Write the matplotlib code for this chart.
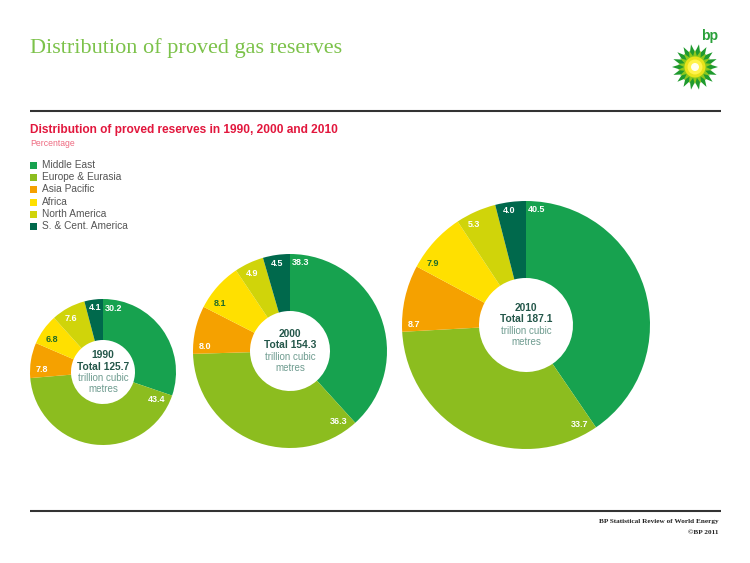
import numpy as np
import matplotlib
matplotlib.use("Agg")
import matplotlib.pyplot as plt
from matplotlib.patches import Polygon, Circle, Rectangle

# ---- data ----
regions = ["Middle East", "Europe & Eurasia", "Asia Pacific", "Africa",
           "North America", "S. & Cent. America"]
years = ["1990", "2000", "2010"]
totals = [125.7, 154.3, 187.1]
share_1990 = [30.2, 43.4, 7.8, 6.8, 7.6, 4.1]
share_2000 = [38.3, 36.3, 8.0, 8.1, 4.9, 4.5]
share_2010 = [40.5, 33.7, 8.7, 7.9, 5.3, 4.0]
shares = [share_1990, share_2000, share_2010]

colors = ["#17a24f", "#8cbd1f", "#f5a100", "#ffe000", "#d0d40a", "#00694c"]
label_colors = ["white", "white", "white", "#1e6b2a", "white", "white"]

W, H = 750, 563
fig = plt.figure(figsize=(W / 100, H / 100), dpi=100)
ax = fig.add_axes([0, 0, 1, 1])


def Y(y):
    return H - y


# titles
fig_title_color = "#7cc24a"
ax.text(30, Y(48), "Distribution of proved gas reserves", fontsize=16,
        family="Liberation Serif", color=fig_title_color, va="center", ha="left")
ax.plot([30, 721], [Y(111), Y(111)], color="#333333", lw=1.5, solid_capstyle="butt")
ax.plot([30, 721], [Y(511), Y(511)], color="#333333", lw=1.5, solid_capstyle="butt")

ax.text(30, Y(130), "Distribution of proved reserves in 1990, 2000 and 2010",
        fontsize=8.6, weight="bold", family="Liberation Sans", color="#e2173d",
        va="center", ha="left")
ax.text(30, Y(143), "Percentage", fontsize=6.2, family="Liberation Sans",
        color="#ee6a80", va="center", ha="left")

# legend
leg_y = [165, 177, 189, 202, 214, 226]
for name, c, ly in zip(regions, colors, leg_y):
    ax.add_patch(Rectangle((30, Y(ly) - 3.5), 7, 7, color=c, lw=0))
    ax.text(42, Y(ly), name, fontsize=7.3, family="Liberation Sans",
            color="#555555", va="center", ha="left")

# footer
ax.text(719, Y(521), "BP Statistical Review of World Energy", fontsize=5.2,
        weight="bold", family="Liberation Serif", color="#222222", ha="right", va="center")
ax.text(719, Y(532), "\u00a9BP 2011", fontsize=5.2, weight="bold",
        family="Liberation Serif", color="#222222", ha="right", va="center")

# bp logo
lx, ly0 = 695, Y(67)
def star(cx, cy, ro, ri, n, rot):
    pts = []
    for k in range(2 * n):
        ang = rot + np.pi * k / n
        rr = ro if k % 2 == 0 else ri
        pts.append((cx + rr * np.cos(ang), cy + rr * np.sin(ang)))
    return pts
ax.add_patch(Polygon(star(lx, ly0, 23, 15, 18, 0), closed=True, color="#1f9a2e", lw=0))
ax.add_patch(Polygon(star(lx, ly0, 17.5, 11, 18, np.pi / 18), closed=True, color="#8cc81e", lw=0))
ax.add_patch(Circle((lx, ly0), 10.5, color="#e8e21a", lw=0))
ax.add_patch(Circle((lx, ly0), 7.5, color="#fff34a", lw=0))
ax.add_patch(Circle((lx, ly0), 4, color="#ffffee", lw=0))
ax.text(710, Y(36), "bp", fontsize=10, weight="bold", family="Liberation Sans",
        color="#2aa03a", ha="center", va="center")

# donuts
centers = [(103, 372), (290, 351), (526, 325)]
radii = [73, 97, 124]
inner = [32, 40, 47]

for vals, yr, tot, (cx, cy), r, ri in zip(shares, years, totals, centers, radii, inner):
    wedges, _ = ax.pie(vals, colors=colors, startangle=90, counterclock=False,
                       radius=r, center=(cx, Y(cy)), frame=True,
                       wedgeprops=dict(width=r - ri, linewidth=0))
    for w, v, lc in zip(wedges, vals, label_colors):
        start = w.theta2
        span = w.theta2 - w.theta1
        a0 = np.radians(start)
        hw, hh = 8.5, 4.0
        ca, sa = abs(np.cos(a0)), abs(np.sin(a0))
        d = 3 + ca * hw + sa * hh
        rl = r - d
        off = np.degrees((sa * hw + ca * hh + 2.5) / rl)
        off = min(off, span / 2)
        a = np.radians(start - off)
        ca, sa = abs(np.cos(a)), abs(np.sin(a))
        d = 3 + ca * hw + sa * hh
        rl = r - d
        ax.text(cx + rl * np.cos(a), Y(cy) + rl * np.sin(a), f"{v:.1f}",
                fontsize=6.5, weight="bold", family="Liberation Sans",
                color=lc, ha="center", va="center")
    ax.text(cx, Y(cy) + 17, yr, fontsize=7.4, weight="bold", family="Liberation Sans",
            color="#24574a", ha="center", va="center")
    ax.text(cx, Y(cy) + 5.5, f"Total {tot:.1f}", fontsize=7.4, weight="bold",
            family="Liberation Sans", color="#24574a", ha="center", va="center")
    ax.text(cx, Y(cy) - 6, "trillion cubic", fontsize=7.0, family="Liberation Sans",
            color="#6f9c90", ha="center", va="center")
    ax.text(cx, Y(cy) - 17, "metres", fontsize=7.0, family="Liberation Sans",
            color="#6f9c90", ha="center", va="center")

ax.set_xlim(0, W)
ax.set_ylim(0, H)
ax.set_aspect("auto")
ax.axis("off")
fig.savefig("out.png", dpi=100)
